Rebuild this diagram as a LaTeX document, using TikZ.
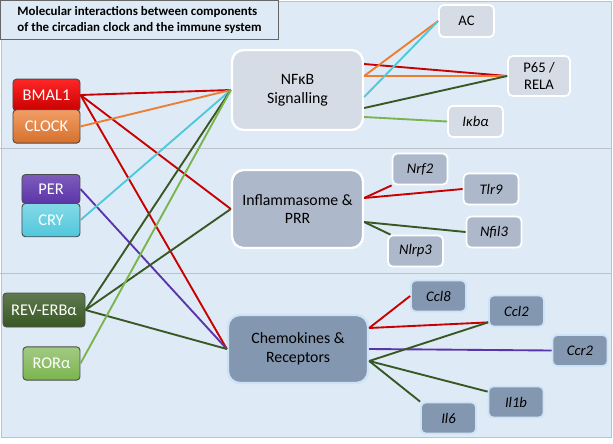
\documentclass[tikz,border=0pt]{standalone}
\usepackage{fontspec}
\setmainfont{Carlito}
\usepackage{tikz}
\usetikzlibrary{positioning}
\definecolor{panelbg}{RGB}{222,234,246}
\definecolor{panelrule}{RGB}{190,194,200}
\definecolor{hubone}{RGB}{214,220,229}
\definecolor{hubtwo}{RGB}{173,185,202}
\definecolor{hubthree}{RGB}{132,151,176}
\definecolor{chemrim}{RGB}{205,226,245}
\definecolor{bmalred}{RGB}{200,0,0}
\definecolor{clockorange}{RGB}{237,125,49}
\definecolor{perpurple}{RGB}{92,52,170}
\definecolor{crycyan}{RGB}{80,200,220}
\definecolor{revgreen}{RGB}{56,87,35}
\definecolor{rorgreen}{RGB}{122,180,78}
\tikzset{
  clockbox/.style={rectangle,rounded corners=3pt,draw=black!70,thick,text=white,align=center,font=\fontsize{14}{16}\selectfont,inner sep=0pt},
  hub/.style={rectangle,rounded corners=10pt,draw=white,line width=2pt,align=center,font=\fontsize{13.5}{16}\selectfont,minimum width=3.93cm,minimum height=2.4cm},
  gene/.style={rectangle,rounded corners=4pt,draw=white,line width=1.5pt,align=center,font=\fontsize{12.5}{14}\selectfont,minimum width=1.65cm,minimum height=0.93cm},
  link/.style={line width=1.6pt}
}
\begin{document}
\begin{tikzpicture}[x=0.03cm,y=-0.03cm]
  \useasboundingbox (0,0) rectangle (613,443);
  \fill[panelbg] (1,1) rectangle (611,437);
  \draw[panelrule,thick] (0,148) -- (611,148);
  \draw[panelrule,thick] (0,273) -- (611,273);
  \draw[panelrule,thick] (1,1) rectangle (611,437);
  \node[draw=black!60,thick,fill=panelbg,anchor=north west,minimum width=8.34cm,minimum height=1.17cm,align=left,inner xsep=0.2cm,font=\fontsize{11}{13.5}\selectfont\bfseries] (title) at (0,0) {Molecular interactions between components\\of the circadian clock and the immune system};
  % clock components
  \node[clockbox,top color=red!85!white,bottom color=bmalred,minimum width=2.01cm,minimum height=0.95cm] (bmal) at (46.5,95) {BMAL1};
  \node[clockbox,top color=clockorange!75!white,bottom color=clockorange!90!black,minimum width=2.01cm,minimum height=1.0cm,below=-0.06cm of bmal] (clock) {CLOCK};
  \node[clockbox,top color=perpurple!80!white,bottom color=perpurple,minimum width=1.74cm,minimum height=0.87cm] (per) at (51,189) {PER};
  \node[clockbox,top color=crycyan!70!white,bottom color=crycyan,minimum width=1.74cm,minimum height=1.0cm,below=-0.03cm of per] (cry) {CRY};
  \node[clockbox,top color=revgreen!80!white,bottom color=revgreen,minimum width=2.46cm,minimum height=1.02cm] (rev) at (44,310) {REV-ERBα};
  \node[clockbox,top color=rorgreen!70!white,bottom color=rorgreen,minimum width=1.71cm,minimum height=1.0cm] (ror) at (51.5,363.5) {RORα};
  % immune hubs
  \node[hub,fill=hubone] (nfkb) at (297.5,90) {NFκB\\Signalling};
  \node[hub,fill=hubtwo,minimum height=2.34cm] (infl) at (297.5,209) {Inflammasome \&\\PRR};
  \node[hub,fill=hubthree,minimum width=4.2cm,minimum height=2.04cm,draw=chemrim] (chem) at (298,349) {Chemokines \&\\Receptors};
  % genes
  \node[gene,fill=hubone,minimum height=0.96cm] (ac) at (466.5,21) {AC};
  \node[gene,fill=hubone,minimum width=1.86cm,minimum height=1.2cm] (rela) at (539,76) {P65 /\\RELA};
  \node[gene,fill=hubone,font=\fontsize{12.5}{14}\selectfont\itshape] (ikba) at (475.5,121.5) {Iκbα};
  \node[gene,fill=hubtwo,font=\fontsize{12.5}{14}\selectfont\itshape] (nrf) at (420,169) {Nrf2};
  \node[gene,fill=hubtwo,font=\fontsize{12.5}{14}\selectfont\itshape] (tlr) at (491,189) {Tlr9};
  \node[gene,fill=hubtwo,font=\fontsize{12.5}{14}\selectfont\itshape] (nfil) at (494,232) {Nfil3};
  \node[gene,fill=hubtwo,font=\fontsize{12.5}{14}\selectfont\itshape] (nlrp) at (415.5,251) {Nlrp3};
  \node[gene,fill=hubthree,draw=chemrim,font=\fontsize{12.5}{14}\selectfont\itshape] (ccleight) at (438.5,296) {Ccl8};
  \node[gene,fill=hubthree,draw=chemrim,font=\fontsize{12.5}{14}\selectfont\itshape] (ccltwo) at (516.5,311) {Ccl2};
  \node[gene,fill=hubthree,draw=chemrim,font=\fontsize{12.5}{14}\selectfont\itshape] (ccr) at (580,350.5) {Ccr2};
  \node[gene,fill=hubthree,draw=chemrim,font=\fontsize{12.5}{14}\selectfont\itshape] (ilone) at (516,402) {Il1b};
  \node[gene,fill=hubthree,draw=chemrim,font=\fontsize{12.5}{14}\selectfont\itshape] (ilsix) at (448.5,418) {Il6};
  % clock to hubs
  \draw[link,bmalred] (bmal.east) -- (nfkb.west);
  \draw[link,bmalred] (bmal.east) -- (infl.west);
  \draw[link,bmalred] (bmal.east) -- (chem.west);
  \draw[link,clockorange] (clock.east) -- (nfkb.west);
  \draw[link,perpurple] (per.east) -- (chem.west);
  \draw[link,crycyan] (cry.east) -- (nfkb.west);
  \draw[link,revgreen] (rev.east) -- (nfkb.west);
  \draw[link,revgreen] (rev.east) -- (infl.west);
  \draw[link,revgreen] (rev.east) -- (chem.west);
  \draw[link,rorgreen] (ror.east) -- (nfkb.west);
  % hubs to genes
  \draw[link,bmalred] ([yshift=0.78cm]nfkb.east) -- (rela.west);
  \draw[link,clockorange] ([yshift=0.42cm]nfkb.east) -- (ac.west);
  \draw[link,clockorange] ([yshift=0.42cm]nfkb.east) -- (rela.west);
  \draw[link,crycyan] ([yshift=-0.21cm]nfkb.east) -- (ac.west);
  \draw[link,revgreen] ([yshift=-0.54cm]nfkb.east) -- (rela.west);
  \draw[link,rorgreen] ([yshift=-0.81cm]nfkb.east) -- (ikba.west);
  \draw[link,bmalred] ([yshift=0.33cm]infl.east) -- (nrf.south west);
  \draw[link,bmalred] ([yshift=0.33cm]infl.east) -- (tlr.west);
  \draw[link,revgreen] ([yshift=-0.39cm]infl.east) -- (nfil.west);
  \draw[link,revgreen] ([yshift=-0.39cm]infl.east) -- ([xshift=0.1cm]nlrp.north west);
  \draw[link,bmalred] ([yshift=0.63cm]chem.east) -- (ccleight.west);
  \draw[link,bmalred] ([yshift=0.63cm]chem.east) -- ([yshift=0.15cm]ccltwo.south west);
  \draw[link,perpurple] (chem.east) -- (ccr.west);
  \draw[link,revgreen] ([yshift=-0.36cm]chem.east) -- ([yshift=0.15cm]ccltwo.south west);
  \draw[link,revgreen] ([yshift=-0.36cm]chem.east) -- ([yshift=-0.18cm]ilone.north west);
  \draw[link,revgreen] ([yshift=-0.36cm]chem.east) -- (ilsix.north west);
\end{tikzpicture}
\end{document}
